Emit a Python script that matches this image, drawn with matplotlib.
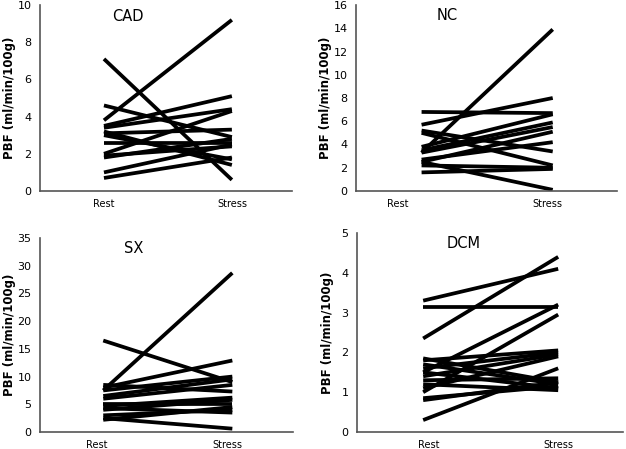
import matplotlib
matplotlib.use("Agg")
import matplotlib.pyplot as plt

categories = ["Rest", "Stress"]

cad_rest   = [7.1, 4.6, 3.8, 3.5, 3.4, 3.2, 3.1, 3.0, 2.6, 2.0, 1.9, 1.8, 1.0, 0.7]
cad_stress = [0.6, 2.9, 9.2, 5.1, 4.4, 1.4, 3.3, 1.7, 2.6, 4.3, 2.4, 2.8, 2.5, 1.8]

nc_rest   = [3.3, 6.8, 5.7, 5.2, 5.0, 3.8, 3.5, 3.3, 2.7, 2.5, 2.5, 2.2, 1.6]
nc_stress = [13.9, 6.7, 8.0, 3.4, 2.2, 6.6, 5.9, 5.5, 4.2, 5.1, 0.1, 2.0, 1.9]

sx_rest   = [7.5, 16.5, 8.5, 8.0, 7.5, 6.5, 6.0, 5.0, 4.7, 4.3, 4.0, 3.0, 2.5, 2.2]
sx_stress = [28.7, 9.0, 7.3, 12.9, 10.0, 9.5, 8.5, 5.0, 6.2, 3.5, 5.8, 4.0, 0.6, 4.5]

dcm_rest   = [3.3, 3.15, 2.35, 1.5, 1.0, 0.3, 1.85, 1.8, 1.7, 1.6, 1.5, 1.4, 1.3, 1.2, 1.1, 0.85, 0.8]
dcm_stress = [4.1, 3.15, 4.4, 3.2, 2.95, 1.6, 1.25, 2.05, 1.2, 2.0, 1.1, 1.95, 1.35, 1.05, 1.9, 1.15, 1.25]

panels = [
    dict(title="CAD", rest=cad_rest, stress=cad_stress, ymax=10, step=2,
         rect=[40/626, 1-191/449, 252/626, 186/449], xlim=(-0.5, 1.47),
         ticks=(0.0, 1.0), tpos=(0.35, 0.98)),
    dict(title="NC", rest=nc_rest, stress=nc_stress, ymax=16, step=2,
         rect=[356/626, 1-191/449, 261/626, 186/449], xlim=(-0.5, 1.49),
         ticks=(-0.18, 0.96), tpos=(0.35, 0.985)),
    dict(title="SX", rest=sx_rest, stress=sx_stress, ymax=35, step=5,
         rect=[40/626, 1-432/449, 253/626, 194/449], xlim=(-0.49, 1.47),
         ticks=(-0.05, 0.96), tpos=(0.37, 0.985)),
    dict(title="DCM", rest=dcm_rest, stress=dcm_stress, ymax=5, step=1,
         rect=[357/626, 1-432/449, 266/626, 199/449], xlim=(-0.49, 1.48),
         ticks=(0.04, 1.0), tpos=(0.40, 0.985)),
]

fig = plt.figure(figsize=(6.26, 4.49), dpi=100)
fig.patch.set_facecolor("white")

for p in panels:
    ax = fig.add_axes(p["rect"])
    for r, s in zip(p["rest"], p["stress"]):
        ax.plot([0, 1], [r, s], color="black", lw=2.7, solid_capstyle="butt")
    ax.set_xlim(*p["xlim"])
    ax.set_ylim(0, p["ymax"])
    ax.set_yticks(range(0, p["ymax"] + 1, p["step"]))
    ax.set_xticks(list(p["ticks"]))
    ax.set_xticklabels(categories)
    ax.tick_params(length=0, labelsize=7, pad=6)
    ax.tick_params(axis="y", pad=6)
    for lab in ax.get_yticklabels():
        lab.set_fontsize(8)
    ax.spines["top"].set_visible(False)
    ax.spines["right"].set_visible(False)
    ax.spines["left"].set_color("#555555")
    ax.spines["bottom"].set_color("#555555")
    ax.spines["left"].set_linewidth(1.2)
    ax.spines["bottom"].set_linewidth(1.2)
    ax.set_ylabel("PBF (ml/min/100g)", fontsize=8.5, fontweight="bold", va="center")
    ax.yaxis.set_label_coords(-30 / (p["rect"][2] * 626), 0.5)
    ax.text(p["tpos"][0], p["tpos"][1], p["title"], transform=ax.transAxes,
            ha="center", va="top", fontsize=10.5)

fig.savefig("out.png", dpi=100, facecolor="white")
